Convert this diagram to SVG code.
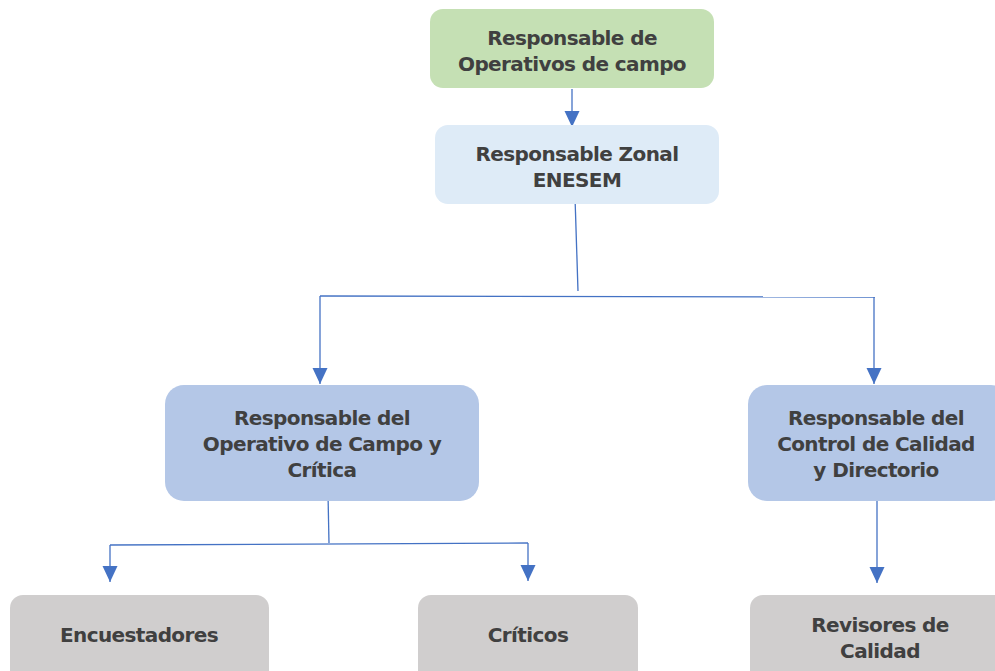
<svg xmlns="http://www.w3.org/2000/svg" width="995" height="671" viewBox="0 0 995 671">
<defs>
<style>
.t{font-family:"DejaVu Sans","Liberation Sans",Arial,sans-serif;font-weight:bold;font-size:20px;letter-spacing:-0.6px;fill:#404040;text-anchor:middle}
.c{stroke:#4472C4;stroke-width:1.3;fill:none}
</style>
<marker id="ah" markerWidth="16" markerHeight="16" viewBox="0 0 16 16" refX="16" refY="8" orient="auto" markerUnits="userSpaceOnUse">
<path d="M0,0.5 L16,8 L0,15.5 Z" fill="#4472C4"/>
</marker>
</defs>
<rect width="995" height="671" fill="#FFFFFF"/>
<g id="connectors">
<line class="c" x1="572" y1="89" x2="572" y2="127" marker-end="url(#ah)"/>
<path class="c" d="M575,197 L578,291"/>
<path class="c" d="M320,296 L875,297"/>
<line class="c" x1="320" y1="296" x2="320" y2="384" marker-end="url(#ah)"/>
<line class="c" x1="874" y1="297" x2="874" y2="384" marker-end="url(#ah)"/>
<path class="c" d="M328,494 L329,543"/>
<path class="c" d="M110,545 L528,543"/>
<line class="c" x1="110" y1="545" x2="110" y2="582" marker-end="url(#ah)"/>
<line class="c" x1="528" y1="543" x2="528" y2="581" marker-end="url(#ah)"/>
<line class="c" x1="877" y1="494" x2="877" y2="583" marker-end="url(#ah)"/>
</g>
<g id="n1">
<rect x="430" y="9" width="284" height="79" rx="13" fill="#C5E0B4"/>
<text class="t" x="572" y="45">Responsable de</text>
<text class="t" x="572" y="71">Operativos de campo</text>
</g>
<g id="n2">
<rect x="435" y="125" width="284" height="79" rx="13" fill="#DEEBF7"/>
<text class="t" x="577" y="161">Responsable Zonal</text>
<text class="t" x="577" y="187">ENESEM</text>
</g>
<g id="n3">
<rect x="165" y="385" width="314" height="116" rx="19" fill="#B4C7E7"/>
<text class="t" x="322" y="425">Responsable del</text>
<text class="t" x="322" y="451">Operativo de Campo y</text>
<text class="t" x="322" y="477">Crítica</text>
</g>
<g id="n4">
<rect x="748" y="385" width="262" height="116" rx="19" fill="#B4C7E7"/>
<text class="t" x="876" y="425">Responsable del</text>
<text class="t" x="876" y="451">Control de Calidad</text>
<text class="t" x="876" y="477">y Directorio</text>
</g>
<g id="n5">
<rect x="10" y="595" width="259" height="90" rx="13" fill="#D0CECE"/>
<text class="t" x="139" y="642">Encuestadores</text>
</g>
<g id="n6">
<rect x="418" y="595" width="220" height="90" rx="13" fill="#D0CECE"/>
<text class="t" x="528" y="642">Críticos</text>
</g>
<g id="n7">
<rect x="750" y="595" width="260" height="90" rx="13" fill="#D0CECE"/>
<text class="t" x="880" y="632">Revisores de</text>
<text class="t" x="880" y="658">Calidad</text>
</g>
</svg>
